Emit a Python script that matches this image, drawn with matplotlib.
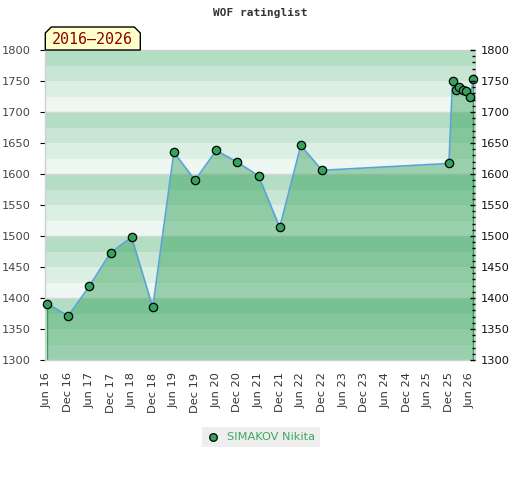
import matplotlib
matplotlib.use("Agg")
import matplotlib.pyplot as plt
import matplotlib.dates as mdates
from matplotlib.patches import Polygon, Rectangle
from matplotlib.lines import Line2D
import pandas as pd

# ---- data ----
dates = ["2016-06-01", "2016-12-01", "2017-06-01", "2017-12-01", "2018-06-01",
         "2018-12-01", "2019-06-01", "2019-12-01", "2020-06-01", "2020-12-01",
         "2021-06-01", "2021-12-01", "2022-06-01", "2022-12-01", "2025-12-01",
         "2026-01-01", "2026-02-01", "2026-03-01", "2026-04-01", "2026-05-01",
         "2026-06-01", "2026-07-01"]
ratings = [1391, 1371, 1419, 1473, 1498, 1385, 1635, 1590, 1638, 1619,
           1597, 1514, 1646, 1606, 1617, 1750, 1735, 1740, 1735, 1734,
           1724, 1753]
player = "SIMAKOV Nikita"
title = "WOF ratinglist"
period = "2016\u20132026"
tick_dates = pd.date_range("2016-06-01", "2026-06-01", freq="6MS")
y_min, y_max = 1300, 1800

x = pd.to_datetime(dates)

W, H = 520, 480
fig = plt.figure(figsize=(W / 100, H / 100), dpi=100)
ax = fig.add_axes([45.3 / W, 1 - 360 / H, (475 - 45.3) / W, (360 - 50) / H])

# background bands
band_cols = ["#eef7f1", "#dcefe3", "#c8e6d3", "#b3dec3"]
for lo in range(y_min, y_max, 25):
    ax.axhspan(lo, lo + 25, color=band_cols[((lo - y_min) % 100) // 25], lw=0, zorder=0)
for g in range(y_min + 100, y_max, 100):
    ax.axhline(g, color="#d6d6d6", lw=1, zorder=0.5)

green = "#279b4f"
ax.fill_between(x, ratings, y_min, color=green, alpha=0.42, lw=0, zorder=1)
ax.vlines([x[0], x[-1]], y_min, [ratings[0], ratings[-1]], color="#2e9e55", lw=1, zorder=1.5)
ax.plot(x, ratings, color="#5aa3d9", lw=1.2, zorder=2)
ax.plot(x, ratings, ls="none", marker="o", ms=6, mfc="#35a35c", mec="black",
        mew=0.9, zorder=3, clip_on=False)

ax.set_xlim(pd.Timestamp("2016-05-17"), pd.Timestamp("2026-07-14"))
ax.set_ylim(y_min, y_max)
ax.set_xticks(tick_dates)
ax.set_xticklabels([d.strftime("%b %y") for d in tick_dates], rotation=90,
                   fontsize=8.2, color="#333333")
ax.tick_params(axis="x", length=0, pad=9)
ax.set_yticks(range(y_min, y_max + 1, 50))
ax.tick_params(axis="y", left=False, labelleft=True, labelsize=8.2,
               labelcolor="#444444", pad=7)
for s in ax.spines.values():
    s.set_color("#d0d0d0")
    s.set_linewidth(1)

# right axis
ax2 = ax.twinx()
ax2.set_ylim(y_min, y_max)
ax2.set_yticks(range(y_min, y_max + 1, 50))
ax2.set_yticks(range(y_min, y_max + 1, 10), minor=True)
ax2.tick_params(axis="y", which="major", direction="in", length=3.5, width=1,
                color="black", labelsize=8.2, labelcolor="#111111", pad=4.5)
ax2.tick_params(axis="y", which="minor", direction="in", length=2, width=1, color="black")
for s in ax2.spines.values():
    s.set_visible(False)

# title
fig.text(260 / W, 1 - 13 / H, title, ha="center", va="center",
         family="DejaVu Sans Mono", fontweight="bold", fontsize=8, color="#333333")

# period label box with chamfered top corners
l, r, t, b, c = 45.3, 140.3, 27, 50, 6
pts = [(l, b), (l, t + c), (l + c, t), (r - c, t), (r, t + c), (r, b)]
poly = Polygon([(px / W, 1 - py / H) for px, py in pts], closed=True,
               transform=fig.transFigure, facecolor="#ffffcc", edgecolor="black",
               lw=1, zorder=10)
fig.add_artist(poly)
fig.text((l + r) / 2 / W, 1 - 39.5 / H, period, ha="center", va="center",
         family="DejaVu Sans Mono", fontsize=10.8, color="#8b0000", zorder=11)

# legend
fig.add_artist(Rectangle((202 / W, 1 - 446.7 / H), 118 / W, 20 / H,
                         transform=fig.transFigure, facecolor="#eeeeee",
                         edgecolor="none", zorder=5))
fig.add_artist(Line2D([213.3 / W], [1 - 436.5 / H], transform=fig.transFigure,
                      marker="o", ms=5.5, mfc="#35a35c", mec="black", mew=0.9,
                      ls="none", zorder=6))
fig.text(227 / W, 1 - 436.5 / H, player, ha="left", va="center",
         fontsize=8.2, color="#3aa860", zorder=6)

fig.savefig("out.png", dpi=100)
